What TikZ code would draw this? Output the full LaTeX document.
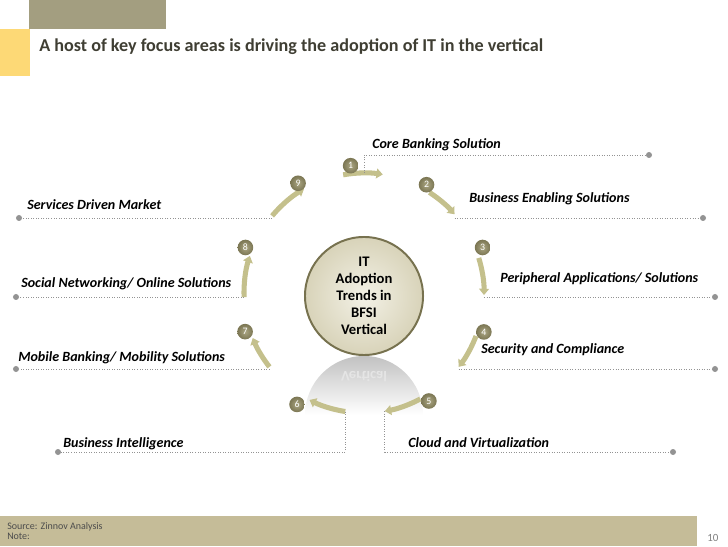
\documentclass[tikz,border=0pt]{standalone}
\usepackage{fontspec}
\setmainfont{Carlito}
\usetikzlibrary{positioning,arrows.meta,calc}
\definecolor{khaki}{HTML}{A39E80}
\definecolor{sunny}{HTML}{FDD976}
\definecolor{sand}{HTML}{C5BC98}
\definecolor{arrowtan}{HTML}{C4C08C}
\definecolor{rimcol}{HTML}{77724F}
\definecolor{titlegray}{HTML}{3F3E33}
\definecolor{badgelight}{HTML}{ABA683}
\definecolor{badgedark}{HTML}{7B7653}
\definecolor{hublight}{HTML}{F3F1E6}
\definecolor{hubdark}{HTML}{D8D3B9}
\tikzset{
  cyclearrow/.style={-{Triangle[width=7pt,length=4.5pt]}, line width=3.6pt, arrowtan},
  badge/.style={circle, inner sep=0pt, minimum size=0.39cm, inner color=badgelight, outer color=badgedark, text=white, font=\fontsize{7}{8}\selectfont},
  hubnode/.style={circle, draw=rimcol, line width=1.4pt, minimum size=2.95cm, inner color=hublight, outer color=hubdark, align=center, font=\bfseries\fontsize{10.4}{12.1}\selectfont},
  leader/.style={gray!85, line width=0.6pt, dash pattern=on 0.6pt off 1.2pt},
  enddot/.style={circle, fill=gray!85, inner sep=0pt, minimum size=0.15cm},
  arealabel/.style={anchor=base west, inner sep=0pt, font=\bfseries\itshape\fontsize{10}{12}\selectfont}
}
\begin{document}
\begin{tikzpicture}[x=0.025cm, y=0.025cm]
\useasboundingbox (0,0) rectangle (728,546);
\fill[khaki] (29,517) rectangle (166,546);
\fill[sunny] (0,470) rectangle (30,517);
\node[anchor=base west, inner sep=0pt, text=titlegray, font=\bfseries\fontsize{12.9}{15}\selectfont] (title) at (39,494) {A host of key focus areas is driving the adoption of IT in the vertical};
\fill[sand] (0,0) rectangle (697,30);
\node[anchor=base west, inner sep=0pt, text=black!70, font=\fontsize{7.1}{8}\selectfont] (source) at (7,17) {Source: Zinnov Analysis};
\node[anchor=base west, inner sep=0pt, text=black!70, font=\fontsize{7.1}{8}\selectfont] (note) at (7,7) {Note:};
\node[anchor=base west, inner sep=0pt, text=gray, font=\fontsize{7.8}{9}\selectfont] (page) at (707,5) {10};

\coordinate (hub) at (364,253);
\shade[top color=black!24, bottom color=white] (305,131) arc[start angle=180, end angle=0, radius=59] -- cycle;
\node[yscale=-1, text=black!10, font=\bfseries\fontsize{10.4}{12}\selectfont] (echo) at (364,169) {Vertical};
\node[hubnode] (trend) at (364,250) {IT\\Adoption\\Trends in\\BFSI\\Vertical};

\foreach \n/\a/\b in {1/100/81, 2/57/41, 3/17/-1, 4/-21/-38, 5/-62/-80, 6/-99/-117, 7/-142/-158, 8/182/162, 9/140/120} {
  \coordinate (s\n) at ($(hub)+(\a:120)$);
  \coordinate (e\n) at ($(hub)+(\b:120)$);
  \draw[cyclearrow] (s\n) arc[start angle=\a, end angle=\b, radius=120];
}
\coordinate (m1) at ($(hub)+(90:120)$);

\node[enddot] (d1) at (649,391) {};
\node[enddot] (d2) at (703,328) {};
\node[enddot] (d3) at (715,249) {};
\node[enddot] (d4) at (715,177) {};
\node[enddot] (d5) at (673,94) {};
\node[enddot] (d6) at (58,94) {};
\node[enddot] (d7) at (16,177) {};
\node[enddot] (d8) at (16,249) {};
\node[enddot] (d9) at (19,328) {};
\draw[leader] (m1) |- (d1);
\draw[leader] (e2 |- d2) -- (d2);
\draw[leader] (e3 |- d3) -- (d3);
\draw[leader] (e4 |- d4) -- (d4);
\draw[leader] (e5) |- (d5);
\draw[leader] (s6) |- (d6);
\draw[leader] (s7 |- d7) -- (d7);
\draw[leader] (s8 |- d8) -- (d8);
\draw[leader] (s9 |- d9) -- (d9);

\foreach \n/\a/\r in {1/96/128, 2/60/125, 3/21/127, 4/-18/126, 5/-59/126, 6/-121/130, 7/-162/125, 8/159/127, 9/121/128}
  \node[badge] (b\n) at ($(hub)+(\a:\r)$) {\n};

\node[arealabel] (l1) at (372,397) {Core Banking Solution};
\node[arealabel] (l2) at (469,343) {Business Enabling Solutions};
\node[arealabel] (l3) at (500,263) {Peripheral Applications/ Solutions};
\node[arealabel] (l4) at (481,192) {Security and Compliance};
\node[arealabel] (l5) at (408,99) {Cloud and Virtualization};
\node[arealabel] (l6) at (63,99) {Business Intelligence};
\node[arealabel] (l7) at (18,184) {Mobile Banking/ Mobility Solutions};
\node[arealabel] (l8) at (21,258) {Social Networking/ Online Solutions};
\node[arealabel] (l9) at (27,336) {Services Driven Market};
\end{tikzpicture}
\end{document}
